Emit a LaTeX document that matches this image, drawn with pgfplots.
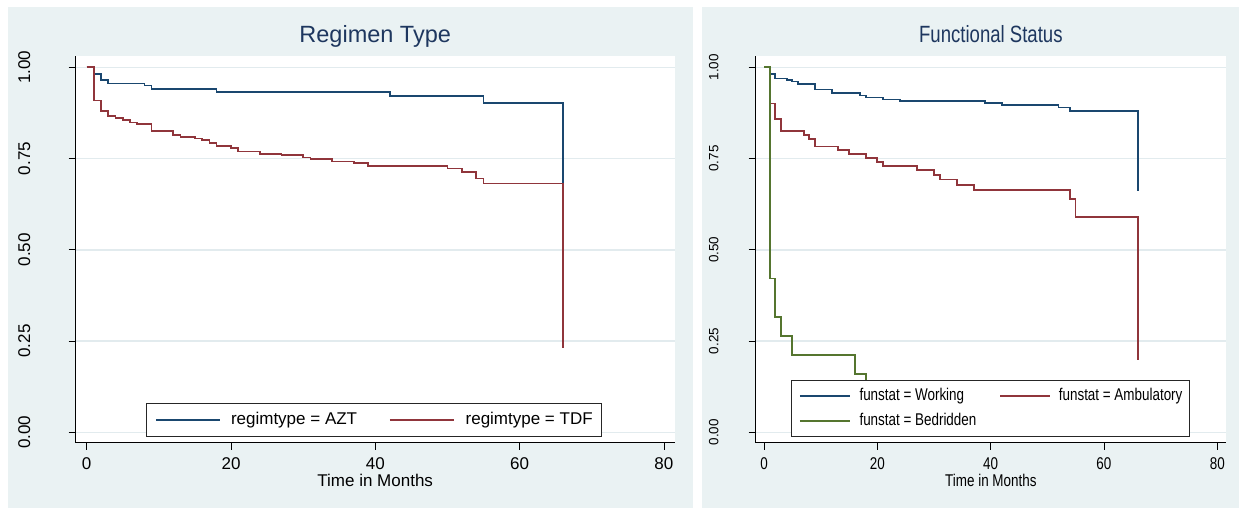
\documentclass[border=0pt]{standalone}
\usepackage{fontspec}
\setmainfont{Liberation Sans}
\newfontfamily\cond[FakeStretch=0.79]{Liberation Sans}
\usepackage{graphicx}
\usepackage{pgfplots}
\pgfplotsset{compat=1.18}
\definecolor{panelbg}{RGB}{234,242,243}
\definecolor{gridc}{RGB}{226,235,238}
\definecolor{stnavy}{RGB}{26,71,111}
\definecolor{stmaroon}{RGB}{144,53,59}
\definecolor{stgreen}{RGB}{85,117,47}
\definecolor{titlec}{RGB}{30,55,95}
\pgfplotsset{
  km/.style={
    scale only axis,
    axis background/.style={fill=white},
    axis lines*=left,
    axis line style={black, line width=1.1pt},
    tick align=outside,
    major tick length=7pt,
    tick style={black, line width=0.9pt},
    ymin=-0.0285, ymax=1.031,
    ytick={0,0.25,0.5,0.75,1},
    xtick={0,20,40,60,80},
    ymajorgrids,
    grid style={gridc, line width=1.5pt},
    height=386.7pt,
  },
  kmline/.style={const plot, line width=1.7pt},
}
\begin{document}
\begin{tikzpicture}[x=1pt,y=1pt]
\fill[white] (0,0) rectangle (1239,508);
\fill[panelbg] (8,0) rectangle (693,501);
\fill[panelbg] (702,0) rectangle (1239,501);

% ---------------- Left panel ----------------
\begin{axis}[km,
  at={(75.7pt,65.3pt)}, anchor=south west,
  width=599pt,
  xmin=-1.524, xmax=81.49,
  xticklabels={0,20,40,60,80},
  yticklabels={0.00,0.25,0.50,0.75,1.00},
  ticklabel style={font=\fontsize{17}{17}\selectfont},
  xticklabel style={anchor=base, yshift=-19.6pt},
  yticklabel style={xshift=-38.7pt, rotate=90, anchor=base},
  title={Regimen Type},
  title style={font=\fontsize{23.5}{23.5}\selectfont, color=titlec, at={(axis description cs:0.5,1)}, anchor=base, yshift=7.7pt},
  xlabel={Time in Months},
  xlabel style={font=\fontsize{17}{17}\selectfont, at={(axis description cs:0.5,0)}, anchor=base, yshift=-44.3pt},
  legend columns=2,
  legend cell align=left,
  legend image code/.code={\draw[#1, line width=1.5pt] (0pt,0pt) -- (64pt,0pt);},
  legend style={at={(axis description cs:0.1174,0.01474)}, anchor=south west,
    draw=black!85, line width=1pt, fill=white,
    font=\fontsize{17}{17}\selectfont,
    inner xsep=9pt, inner ysep=8.6pt,
    nodes={inner sep=0pt, text height=12.2pt, text depth=3.6pt},
    /tikz/column 1/.style={column sep=10pt},
    /tikz/column 2/.style={column sep=32pt},
    /tikz/column 3/.style={column sep=11pt}},
]
\addplot[kmline, stnavy] coordinates {
(0,1.0) (1,0.981) (2,0.965) (3,0.956) (8,0.950) (9,0.941) (18,0.932)
(42,0.922) (55,0.903) (66,0.903) (66,0.684)};
\addlegendentry{regimtype = AZT}
\addplot[kmline, stmaroon] coordinates {
(0,1) (1,0.909) (2,0.880) (3,0.867) (4,0.862) (5,0.856) (6,0.849) (7,0.844)
(9,0.825) (12,0.815) (13,0.810) (15,0.805) (16,0.801) (17,0.793) (18,0.784)
(20,0.778) (21,0.769) (24,0.763) (27,0.759) (30,0.753) (31,0.748) (34,0.742)
(37,0.737) (39,0.730) (50,0.723) (52,0.714) (54,0.695) (55,0.682) (66,0.682) (66,0.23)};
\addlegendentry{regimtype = TDF}
\end{axis}

% ---------------- Right panel ----------------
\begin{axis}[km,
  at={(755.7pt,65.3pt)}, anchor=south west,
  width=470.3pt,
  xmin=-1.465, xmax=81.54,
  xticklabels={0,20,40,60,80},
  yticklabels={\scalebox{1}[0.79]{0.00},\scalebox{1}[0.79]{0.25},\scalebox{1}[0.79]{0.50},\scalebox{1}[0.79]{0.75},\scalebox{1}[0.79]{1.00}},
  ticklabel style={font=\cond\fontsize{17}{17}\selectfont},
  xticklabel style={anchor=base, yshift=-19.6pt},
  yticklabel style={xshift=-30.4pt, rotate=90, anchor=base},
  title={Functional Status},
  title style={font=\cond\fontsize{23.5}{23.5}\selectfont, color=titlec, at={(axis description cs:0.5,1)}, anchor=base, yshift=7.7pt},
  xlabel={Time in Months},
  xlabel style={font=\cond\fontsize{17}{17}\selectfont, at={(axis description cs:0.5,0)}, anchor=base, yshift=-44.3pt},
  legend columns=2,
  legend cell align=left,
  legend image code/.code={\draw[#1, line width=1.5pt] (0pt,0pt) -- (50pt,0pt);},
  legend style={at={(axis description cs:0.0751,0.01474)}, anchor=south west,
    draw=black!85, line width=1pt, fill=white,
    font=\cond\fontsize{17}{17}\selectfont,
    inner xsep=7.5pt, inner ysep=7.6pt, row sep=9.2pt,
    nodes={inner sep=0pt, text height=12.2pt, text depth=3.6pt},
    /tikz/column 1/.style={column sep=9pt},
    /tikz/column 2/.style={column sep=23pt},
    /tikz/column 3/.style={column sep=8pt}},
]
\addplot[kmline, stnavy] coordinates {
(0,1) (1,0.981) (2,0.969) (4,0.965) (5,0.961) (6,0.954) (9,0.939) (12,0.930)
(17,0.923) (18,0.917) (21,0.912) (24,0.908) (39,0.903) (42,0.897) (52,0.890)
(54,0.880) (66,0.880) (66,0.661)};
\addlegendentry{funstat = Working}
\addplot[kmline, stmaroon] coordinates {
(0,1) (1,0.901) (2,0.859) (3,0.825) (7,0.815) (8,0.804) (9,0.783) (13,0.773)
(15,0.762) (18,0.752) (20,0.741) (21,0.730) (27,0.719) (30,0.705) (31,0.693)
(34,0.678) (37,0.664) (54,0.640) (55,0.589) (66,0.589) (66,0.198)};
\addlegendentry{funstat = Ambulatory}
\addplot[kmline, stgreen] coordinates {
(0,1) (1,0.421) (2,0.315) (3,0.264) (5,0.211) (16,0.159) (18,0.105) (20,0.105)};
\addlegendentry{funstat = Bedridden}
\end{axis}
\pgfresetboundingbox
\useasboundingbox (0,0) rectangle (1239,508);
\end{tikzpicture}
\end{document}
